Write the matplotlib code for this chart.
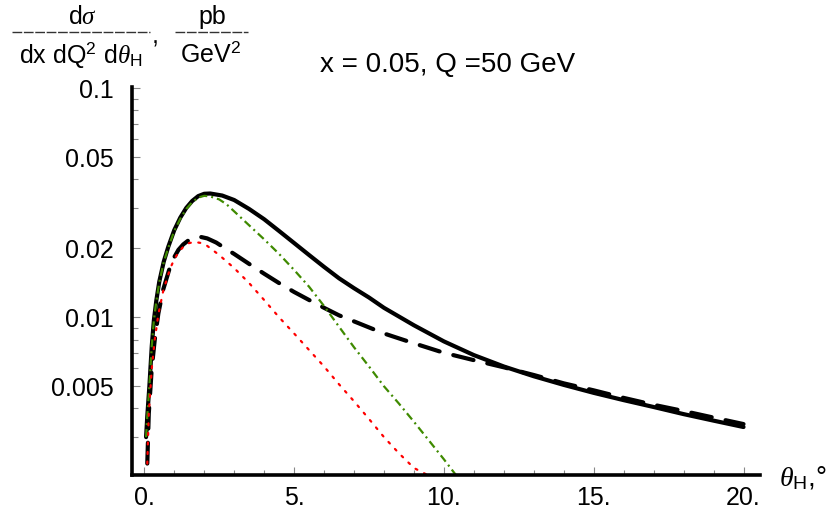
import matplotlib
matplotlib.use("Agg")
import matplotlib.pyplot as plt
from matplotlib.lines import Line2D
from matplotlib.ticker import FixedLocator, FixedFormatter, NullFormatter

plt.rcParams['font.family'] = ['Liberation Sans', 'DejaVu Sans']
plt.rcParams['mathtext.fontset'] = 'custom'
plt.rcParams['mathtext.rm'] = 'Liberation Sans'
plt.rcParams['mathtext.it'] = 'Liberation Serif:italic'
plt.rcParams['mathtext.bf'] = 'Liberation Sans:bold'
plt.rcParams['mathtext.sf'] = 'Liberation Sans'

# ---- data ----
x_total = [0.06, 0.1, 0.17, 0.25, 0.32, 0.4, 0.5, 0.65, 0.8, 1.0, 1.2, 1.4, 1.6, 1.8, 2.0,
           2.2, 2.6, 3.0, 3.5, 4.0, 4.5, 5.0, 5.5, 6.0, 6.5, 7.0, 7.5, 8.0, 9.0, 10.0,
           11.0, 12.0, 13.0, 14.0, 15.0, 16.0, 17.0, 18.0, 19.0, 20.0]
y_total = [0.0030, 0.0037, 0.0050, 0.0075, 0.0097, 0.0118, 0.0143, 0.0175, 0.0203, 0.0240,
           0.0272, 0.0300, 0.0322, 0.0338, 0.0346, 0.0347, 0.0340, 0.0325, 0.0297, 0.0268,
           0.0238, 0.0211, 0.0187, 0.0166, 0.0148, 0.0134, 0.0122, 0.0110, 0.00923, 0.00785,
           0.00684, 0.0061, 0.00553, 0.00507, 0.00468, 0.00435, 0.00406, 0.00378, 0.00354,
           0.00332]

x_dashed = [0.1, 0.15, 0.25, 0.35, 0.47, 0.63, 0.86, 1.0, 1.14, 1.3, 1.5, 1.7, 1.9, 2.1,
            2.4, 2.7, 3.0, 3.5, 4.0, 4.5, 5.0, 5.5, 6.0, 6.5, 7.0, 8.0, 9.0, 10.0, 11.0,
            12.0, 13.0, 14.0, 15.0, 16.0, 17.0, 18.0, 19.0, 20.0]
y_dashed = [0.0023, 0.0038, 0.0060, 0.0080, 0.0104, 0.0132, 0.0166, 0.0183, 0.0197, 0.0208,
            0.0218, 0.0223, 0.0224, 0.0221, 0.0212, 0.0200, 0.0189, 0.0171, 0.0155, 0.0141,
            0.0129, 0.0119, 0.0110, 0.0102, 0.0096, 0.0085, 0.0077, 0.0070, 0.0065, 0.00605,
            0.0056, 0.00515, 0.0048, 0.00445, 0.00415, 0.0039, 0.00365, 0.00342]

x_green = [0.06, 0.1, 0.17, 0.25, 0.32, 0.4, 0.5, 0.65, 0.8, 1.0, 1.2, 1.4, 1.6, 1.8, 2.0,
           2.2, 2.5, 2.75, 3.0, 3.5, 4.0, 4.5, 5.0, 5.5, 6.0, 6.5, 7.0, 7.5, 8.0, 8.5, 9.0,
           9.5, 10.0, 10.4]
y_green = [0.0030, 0.0037, 0.0050, 0.0075, 0.0097, 0.0117, 0.0142, 0.0174, 0.0201, 0.0238,
           0.0269, 0.0297, 0.0318, 0.0333, 0.0339, 0.0337, 0.0327, 0.0311, 0.0290, 0.0252,
           0.0219, 0.0189, 0.0161, 0.0136, 0.0112, 0.0091, 0.0074, 0.0061, 0.0050, 0.0042,
           0.0035, 0.0029, 0.0024, 0.00205]

x_red = [0.1, 0.15, 0.25, 0.35, 0.47, 0.63, 0.86, 1.0, 1.14, 1.3, 1.5, 1.7, 1.9, 2.1, 2.5,
         3.0, 3.5, 4.0, 4.5, 5.0, 5.5, 6.0, 6.5, 7.0, 7.5, 8.0, 8.5, 9.0, 9.45]
y_red = [0.0023, 0.0038, 0.0060, 0.0080, 0.0103, 0.0130, 0.0163, 0.0179, 0.0192, 0.0203,
         0.0211, 0.0213, 0.0211, 0.0205, 0.0187, 0.0164, 0.0141, 0.0119, 0.0100, 0.0085,
         0.0072, 0.0061, 0.0051, 0.0043, 0.0036, 0.0030, 0.00255, 0.0022, 0.00205]

y_major = [0.005, 0.01, 0.02, 0.05, 0.1]
y_major_labels = ["0.005", "0.01", "0.02", "0.05", "0.1"]
x_major = [0, 5, 10, 15, 20]
x_major_labels = ["0.", "5.", "10.", "15.", "20."]

title_text = "x = 0.05, Q =50 GeV"

# ---- figure ----
W, H = 834, 515
fig = plt.figure(figsize=(W / 100, H / 100), dpi=100)
ax = fig.add_axes([131.7 / W, 1 - 475 / H, (760 - 131.7) / W, (475 - 86.7) / H])

ax.set_yscale('log')
ax.set_xlim(-0.42, 20.55)
ax.set_ylim(0.00205, 0.1015)

ax.plot(x_total, y_total, color='black', lw=3.0, solid_capstyle='round', solid_joinstyle='round')
ax.plot(x_dashed, y_dashed, color='black', lw=3.0, dashes=(5.0, 3.4), dash_capstyle='round')
ax.plot(x_green, y_green, color='#3f8a00', lw=1.6, dashes=(3.6, 1.8, 0.9, 1.8))
ax.plot(x_red, y_red, color='#ff0000', lw=1.6, dashes=(0.9, 3.4), dash_capstyle='round')

for s in ['top', 'right']:
    ax.spines[s].set_visible(False)
for s in ['left', 'bottom']:
    ax.spines[s].set_linewidth(2.6)

ax.yaxis.set_major_locator(FixedLocator(y_major))
ax.yaxis.set_major_formatter(FixedFormatter(y_major_labels))
y_minor = [m * 10.0 ** e for e in (-3, -2) for m in range(2, 10)]
ax.yaxis.set_minor_locator(FixedLocator([v for v in y_minor if v not in y_major]))
ax.yaxis.set_minor_formatter(NullFormatter())

ax.xaxis.set_major_locator(FixedLocator(x_major))
ax.xaxis.set_major_formatter(FixedFormatter(x_major_labels))
ax.xaxis.set_minor_locator(FixedLocator([v for v in range(0, 21) if v % 5 != 0]))

ax.tick_params(axis='both', which='both', direction='in', color='#888888', width=0.8,
               labelsize=18)
ax.tick_params(axis='y', which='major', length=6, pad=13)
ax.tick_params(axis='y', which='minor', length=4.5)
ax.tick_params(axis='x', which='major', length=6, pad=8)
ax.tick_params(axis='x', which='minor', length=3.5)

# y-axis label as a stacked fraction
fs = 18
fig.text(83 / W, 1 - 17 / H, r"d$\sigma$", ha='center', va='center', fontsize=fs)
fig.add_artist(Line2D([12 / W, 150 / W], [1 - 32 / H, 1 - 32 / H], color='#333333',
                      lw=1.0, dashes=(7, 1.2), transform=fig.transFigure))
fig.text(81 / W, 1 - 55 / H, r"dx dQ$^{2}$ d$\theta_{\mathrm{H}}$", ha='center', va='center',
         fontsize=fs)
fig.text(155 / W, 1 - 36 / H, ",", ha='center', va='center', fontsize=fs)
fig.text(212 / W, 1 - 17 / H, "pb", ha='center', va='center', fontsize=fs)
fig.add_artist(Line2D([175 / W, 248 / W], [1 - 32 / H, 1 - 32 / H], color='#333333',
                      lw=1.0, dashes=(7, 1.2), transform=fig.transFigure))
fig.text(211 / W, 1 - 55 / H, r"GeV$^{2}$", ha='center', va='center', fontsize=fs)

fig.text(448 / W, 1 - 65 / H, title_text, ha='center', va='center', fontsize=20)
fig.text(779 / W, 1 - 478 / H, r"$\theta_{\mathrm{H}}$,°", ha='left', va='center', fontsize=20)

fig.savefig("out.png", dpi=100)
